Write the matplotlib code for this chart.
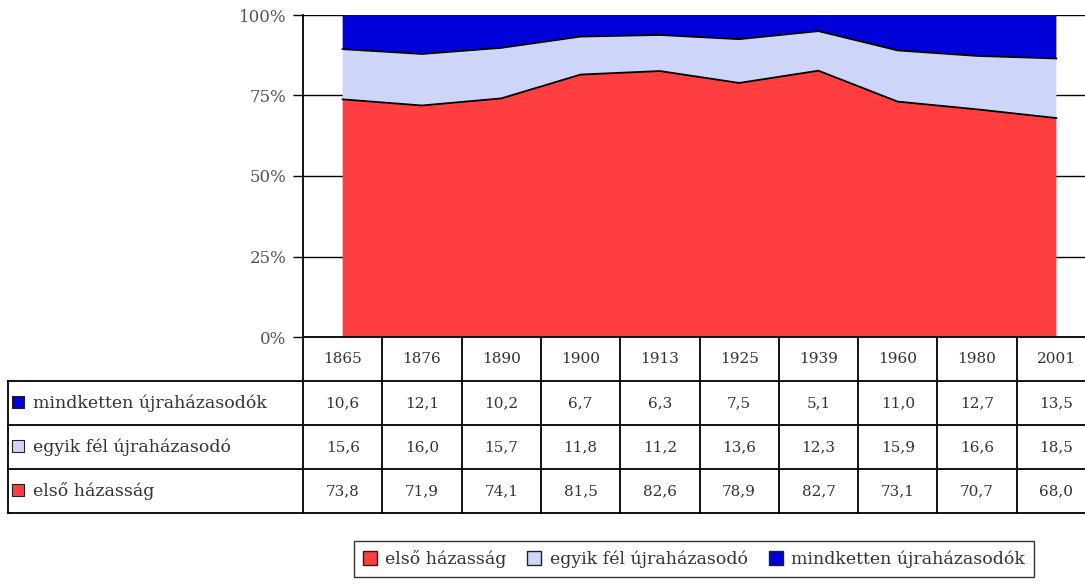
import numpy as np
import matplotlib.pyplot as plt
from matplotlib.patches import Patch

years = ["1865", "1876", "1890", "1900", "1913", "1925", "1939", "1960", "1980", "2001"]
mindketten = [10.6, 12.1, 10.2, 6.7, 6.3, 7.5, 5.1, 11.0, 12.7, 13.5]
egyik = [15.6, 16.0, 15.7, 11.8, 11.2, 13.6, 12.3, 15.9, 16.6, 18.5]
elso = [73.8, 71.9, 74.1, 81.5, 82.6, 78.9, 82.7, 73.1, 70.7, 68.0]

names = ["első házasság", "egyik fél újraházasodó", "mindketten újraházasodók"]
colors = ["#ff3f3f", "#cdd6f8", "#0000d8"]

plt.rcParams["font.family"] = ["DejaVu Serif"]
W, H = 1085, 586
fig = plt.figure(figsize=(W / 100, H / 100), dpi=100)

# plot area in pixels: x 303..1096, y 15..337
ax = fig.add_axes([303 / W, 1 - 337 / H, (1096 - 303) / W, (337 - 15) / H])
x = np.arange(len(years))
ax.stackplot(x, elso, egyik, mindketten, colors=colors, linewidth=0, zorder=2)
c1 = np.array(elso)
c2 = c1 + np.array(egyik)
ax.plot(x, c1, color="black", lw=1.3, zorder=3)
ax.plot(x, c2, color="black", lw=1.3, zorder=3)
for g in [25, 50, 75, 100]:
    ax.axhline(g, color="black", lw=1, zorder=1)
ax.set_xlim(-0.5, len(years) - 0.5)
ax.set_ylim(0, 100)
ax.set_yticks([0, 25, 50, 75, 100])
ax.set_yticklabels(["0%", "25%", "50%", "75%", "100%"], color="#555555", fontsize=12)
ax.tick_params(axis="y", direction="out", length=7, width=1, pad=5)
ax.set_xticks([])
for s in ["top", "right", "bottom"]:
    ax.spines[s].set_visible(False)
ax.spines["left"].set_linewidth(1.3)

# data table below the plot, same x scale
unit = (1096 - 303) / len(years)
x0 = -0.5 - (303 - 8) / unit
tab = fig.add_axes([8 / W, 1 - 513 / H, (1096 - 8) / W, (513 - 337) / H])
tab.set_xlim(x0, len(years) - 0.5)
tab.set_ylim(0, 4)
tab.axis("off")
lw = 1.3
tab.plot([-0.5, len(years) - 0.5], [4, 4], color="black", lw=lw, clip_on=False)
for yy in [3, 2, 1, 0]:
    tab.plot([x0, len(years) - 0.5], [yy, yy], color="black", lw=lw, clip_on=False)
for i in range(len(years) + 1):
    tab.plot([i - 0.5, i - 0.5], [0, 4], color="black", lw=lw, clip_on=False)
tab.plot([x0, x0], [0, 3], color="black", lw=lw, clip_on=False)

tc = "#333333"
for i, yr in enumerate(years):
    tab.text(i, 3.5, yr, ha="center", va="center", fontsize=11, color=tc)
rows = [(mindketten, names[2], colors[2], 2.5),
        (egyik, names[1], colors[1], 1.5),
        (elso, names[0], colors[0], 0.5)]
for vals, name, col, yy in rows:
    for i, v in enumerate(vals):
        tab.text(i, yy, f"{v:.1f}".replace(".", ","), ha="center", va="center",
                 fontsize=11, color=tc)
    tab.scatter([x0 + 10 / unit], [yy + 0.03], marker="s", s=75, color=col,
                edgecolors="#222222", linewidths=0.8, clip_on=False)
    tab.text(x0 + 25 / unit, yy, name, ha="left", va="center", fontsize=12.5,
             color=tc)

handles = [Patch(facecolor=c, edgecolor="#222222", label=n) for c, n in zip(colors, names)]
leg = fig.legend(handles=handles, loc="center", bbox_to_anchor=(694 / W, 1 - 559 / H),
                 ncol=3, frameon=True, fancybox=False, fontsize=12.5,
                 handlelength=0.8, handleheight=0.8, handletextpad=0.5,
                 columnspacing=1.2, borderpad=0.5)
leg.get_frame().set_edgecolor("black")
leg.get_frame().set_linewidth(1)
for t in leg.get_texts():
    t.set_color(tc)

fig.savefig("out.png", dpi=100)
